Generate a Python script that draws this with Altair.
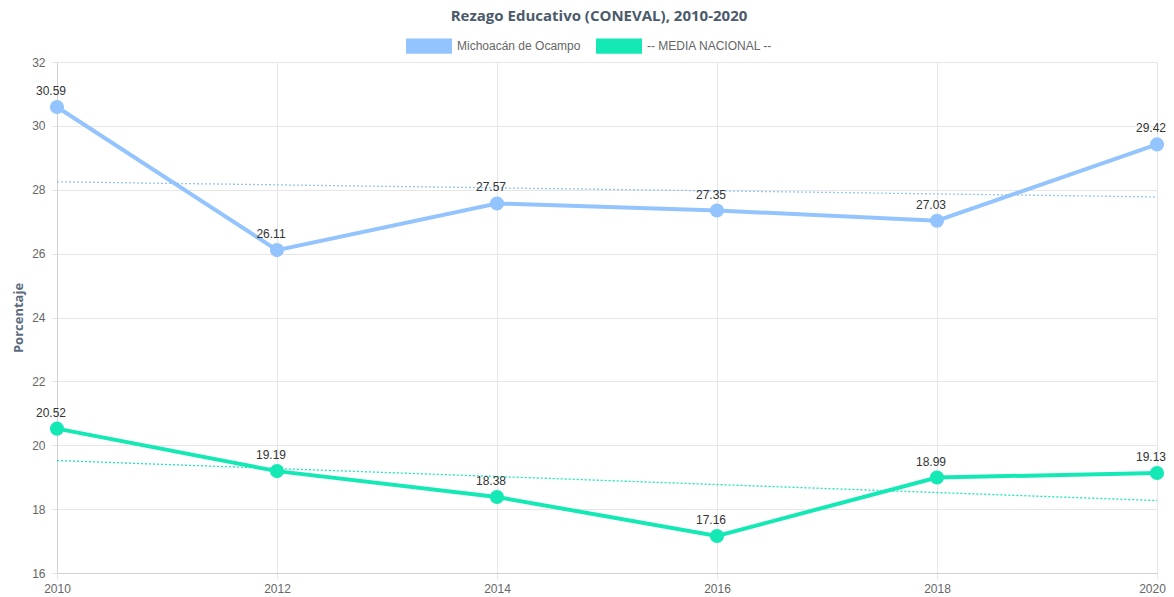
import altair as alt
import pandas as pd

years = [2010, 2012, 2014, 2016, 2018, 2020]
michoacan = [30.59, 26.11, 27.57, 27.35, 27.03, 29.42]
nacional = [20.52, 19.19, 18.38, 17.16, 18.99, 19.13]
series_names = ["Michoacán de Ocampo", "-- MEDIA NACIONAL --"]
series_colors = ["#94c4fd", "#14e8b4"]
y_ticks = [16, 18, 20, 22, 24, 26, 28, 30, 32]

rows = []
for y, v in zip(years, michoacan):
    rows.append({"year": y, "value": v, "series": series_names[0]})
for y, v in zip(years, nacional):
    rows.append({"year": y, "value": v, "series": series_names[1]})
df = pd.DataFrame(rows)
df["linea"] = df["series"]

x_enc = alt.X("year:Q", scale=alt.Scale(domain=[2010, 2020], nice=False, zero=False),
              axis=alt.Axis(values=years, format="d", title=None, grid=True,
                            gridColor="#e6e6e6", tickColor="#e6e6e6", tickSize=6,
                            domainColor="#d0d0d0", labelColor="#666666", labelFlush=False,
                            labelOffset={"condition": {"test": "datum.value === 2020", "value": -5}, "value": 0},
                            labelFontSize=12, labelFont="Liberation Sans", labelPadding=4))
y_enc = alt.Y("value:Q", scale=alt.Scale(domain=[16, 32], nice=False, zero=False),
              axis=alt.Axis(values=y_ticks, title="Porcentaje", grid=True,
                            gridColor="#e6e6e6", tickColor="#e6e6e6", tickSize=6,
                            domainColor="#d0d0d0", labelColor="#666666",
                            labelFontSize=12, labelFont="Liberation Sans", labelPadding=6,
                            titleFont="Open Sans", titleFontSize=13, titleFontWeight="bold",
                            titleColor="#5b6b7e", titlePadding=6))
# legend scale (fill) and line scale (stroke) list the same pairs in different order,
# so that Vega-Lite keeps the fill legend separate from the hidden stroke legend
fill_scale = alt.Scale(domain=series_names, range=series_colors)
stroke_scale = alt.Scale(domain=series_names[::-1], range=series_colors[::-1])

base = alt.Chart(df)

lines = base.mark_line(strokeWidth=4).encode(
    x=x_enc, y=y_enc,
    stroke=alt.Stroke("linea:N", scale=stroke_scale, legend=None),
)

points = base.mark_point(filled=True, size=200, opacity=1).encode(
    x="year:Q", y="value:Q",
    fill=alt.Fill("series:N", scale=fill_scale,
                  legend=alt.Legend(
                      title=None, orient="none", direction="horizontal",
                      legendX=349, legendY=-39,
                      symbolType="M-1,-0.33H1V0.33H-1Z", symbolSize=2116,
                      symbolStrokeWidth=0, symbolOpacity=1,
                      labelFont="Liberation Sans", labelFontSize=12,
                      labelColor="#666666", labelOffset=5, columnPadding=15,
                  )),
)

labels = base.mark_text(dy=-16, dx=-6, fontSize=12, font="Liberation Sans", color="#333333").encode(
    x="year:Q", y="value:Q", text=alt.Text("value:Q", format=".2f"),
)

trend = base.transform_regression(
    "year", "value", groupby=["linea"]
).mark_line(strokeWidth=1.3, strokeDash=[2, 2]).encode(
    x="year:Q", y="value:Q",
    stroke=alt.Stroke("linea:N", scale=stroke_scale, legend=None),
)

chart = alt.layer(trend, lines, points, labels).properties(
    width=1100, height=511,
    title=alt.TitleParams("Rezago Educativo (CONEVAL), 2010-2020", fontSize=15,
                          font="Open Sans", fontWeight="bold", color="#4b5a6b",
                          anchor="middle", offset=14, dx=-8, dy=15),
    autosize=alt.AutoSizeParams(type="none"),
    padding={"left": 49, "top": 54, "right": 9, "bottom": 27},
).configure_view(stroke=None)

chart.save("out.html", embed_options={"renderer": "svg", "actions": False})
